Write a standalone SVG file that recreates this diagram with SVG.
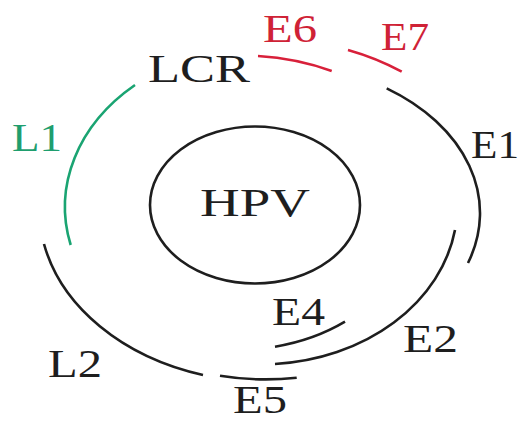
<svg xmlns="http://www.w3.org/2000/svg" width="527" height="421" viewBox="0 0 527 421">
<style>
  .t { font-family: "Liberation Serif", "Times New Roman", serif; font-size: 40px; fill: #1e1e1e; }
  .g { fill: #1f9e6e; }
  .r { fill: #cf2236; }
  .arc { fill: none; stroke: #1e1e1e; stroke-width: 2.6; stroke-linecap: butt; }
  .arc.green { stroke: #1aa472; }
  .arc.red { stroke: #d8203a; }
</style>
<rect width="527" height="421" fill="#ffffff"/>
<g id="hpv">
  <ellipse cx="255" cy="205" rx="105" ry="78.5" fill="none" stroke="#1e1e1e" stroke-width="2.6"/>
  <text class="t" x="200" y="216" textLength="110" lengthAdjust="spacingAndGlyphs">HPV</text>
</g>
<g id="connectors">
  <path id="arc-L1" class="arc green" d="M 70.7 245 A 205 162 0 0 1 135 85"/>
  <path id="arc-E6" class="arc red" d="M 258 56 A 210 160 0 0 1 331.7 71"/>
  <path id="arc-E7" class="arc red" d="M 348 50 A 230 175 0 0 1 401.7 71.7"/>
  <path id="arc-E1" class="arc" d="M 386.7 88.3 A 210 150 0 0 1 468 263"/>
  <path id="arc-E2" class="arc" d="M 455 230 A 196 159 0 0 1 275 364"/>
  <path id="arc-E4" class="arc" d="M 345 321.7 A 176 140 0 0 1 275 346.7"/>
  <path id="arc-E5" class="arc" d="M 296.7 377.7 A 220 170 0 0 1 220 375.7"/>
  <path id="arc-L2" class="arc" d="M 203 375 A 228 174 0 0 1 44 244"/>
</g>
<g id="LCR"><text class="t" x="148" y="82" textLength="102" lengthAdjust="spacingAndGlyphs">LCR</text></g>
<g id="L1"><text class="t g" x="12" y="151" textLength="50" lengthAdjust="spacingAndGlyphs">L1</text></g>
<g id="E6"><text class="t r" x="263" y="42" textLength="54" lengthAdjust="spacingAndGlyphs">E6</text></g>
<g id="E7"><text class="t r" x="381" y="50" textLength="48" lengthAdjust="spacingAndGlyphs">E7</text></g>
<g id="E1"><text class="t" x="471" y="158" textLength="48" lengthAdjust="spacingAndGlyphs">E1</text></g>
<g id="E4"><text class="t" x="272" y="325" textLength="53" lengthAdjust="spacingAndGlyphs">E4</text></g>
<g id="E2"><text class="t" x="403" y="352" textLength="55" lengthAdjust="spacingAndGlyphs">E2</text></g>
<g id="E5"><text class="t" x="233" y="413" textLength="54" lengthAdjust="spacingAndGlyphs">E5</text></g>
<g id="L2"><text class="t" x="48" y="377" textLength="54" lengthAdjust="spacingAndGlyphs">L2</text></g>
</svg>
